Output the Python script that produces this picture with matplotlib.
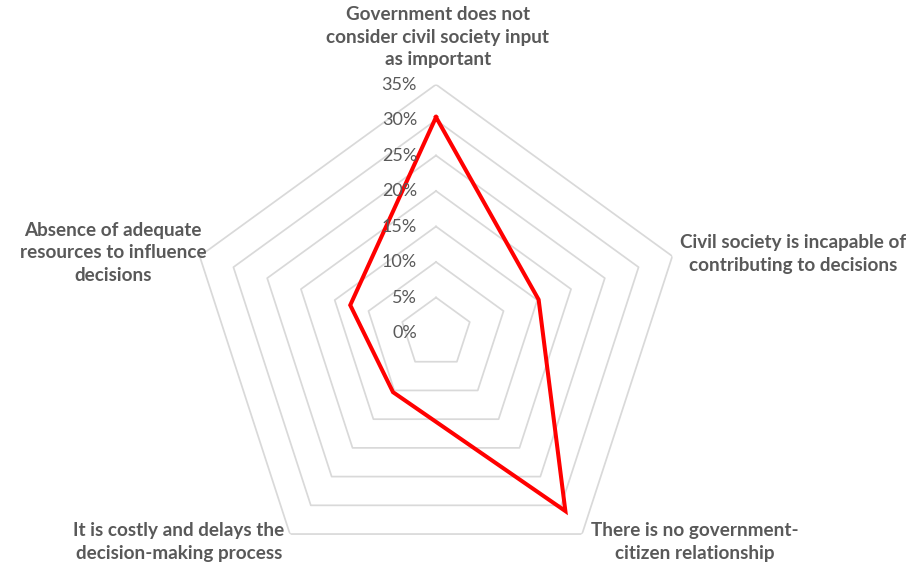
import numpy as np
import matplotlib
matplotlib.use("Agg")
import matplotlib.pyplot as plt

# survey shares (%) per reason, clockwise from the top
categories = [
    "Government does not\nconsider civil society input\nas important",
    "Civil society is incapable of\ncontributing to decisions",
    "There is no government-\ncitizen relationship",
    "It is costly and delays the\ndecision-making process",
    "Absence of adequate\nresources to influence\ndecisions",
]
values = [30.4, 15.2, 31.0, 10.3, 12.7]
ticks = [0, 5, 10, 15, 20, 25, 30, 35]
tick_labels = ["0%", "5%", "10%", "15%", "20%", "25%", "30%", "35%"]

GRID = "#D9D9D9"
TXT = "#595959"
RED = "#FF0000"
plt.rcParams["font.family"] = ["Lato", "DejaVu Sans"]

W, H = 908, 568
fig = plt.figure(figsize=(W / 100, H / 100), dpi=100)

# center of the radar in pixels and radius of the 35% ring
cx, cy, R = 436, 333, 248.5
ax = fig.add_axes([(cx - R) / W, (H - cy - R) / H, 2 * R / W, 2 * R / H],
                  projection="polar")
ax.set_theta_offset(np.pi / 2)
ax.set_theta_direction(-1)
ax.set_ylim(0, 35)
ax.grid(False)
ax.spines["polar"].set_visible(False)
ax.set_xticks([])
ax.set_yticks([])
ax.patch.set_alpha(0)

n = len(categories)
angles = np.linspace(0, 2 * np.pi, n, endpoint=False)
ang_c = np.append(angles, angles[0])

# pentagon gridlines
for t in ticks[1:]:
    ax.plot(ang_c, [t] * (n + 1), color=GRID, lw=1.25, zorder=1)

vals_c = values + values[:1]
ax.plot(ang_c, vals_c, color=RED, lw=2.9, zorder=3, solid_joinstyle="miter")

for t, lab in zip(ticks, tick_labels):
    ax.annotate(lab, xy=(0, t), xytext=(-19, 0), textcoords="offset pixels",
                ha="right", va="center", fontsize=13, color=TXT,
                annotation_clip=False)

# category labels (pixel positions of text anchors)
label_pos = [
    (438, 37, "center"),
    (793, 254, "center"),
    (695, 542, "center"),
    (179, 542, "center"),
    (113, 253, "center"),
]
for lab, (x, y, ha) in zip(categories, label_pos):
    fig.text(x / W, 1 - y / H, lab, ha=ha, va="center", fontsize=13.6,
             fontweight="bold", color=TXT, linespacing=1.42)

fig.savefig("out.png", dpi=100)
